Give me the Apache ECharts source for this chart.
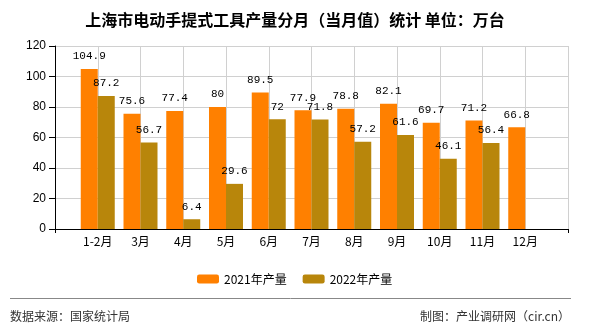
<!DOCTYPE html>
<html>
<head>
<meta charset="utf-8">
<script src="https://cdn.jsdelivr.net/npm/echarts@6/dist/echarts.min.js"></script>
<style>html,body{margin:0;padding:0;background:#fff}#c{width:590px;height:330px}</style>
</head>
<body>
<div id="c"></div>
<script>
const categories = ['1-2月','3月','4月','5月','6月','7月','8月','9月','10月','11月','12月'];
const values2021 = [104.9, 75.6, 77.4, 80, 89.5, 77.9, 78.8, 82.1, 69.7, 71.2, 66.8];
const values2022 = [87.2, 56.7, 6.4, 29.6, 72, 71.8, 57.2, 61.6, 46.1, 56.4, null];
const yTicks = [0, 20, 40, 60, 80, 100, 120];
const seriesNames = ['2021年产量', '2022年产量'];

const cats = [''].concat(categories, ['']);
const pad = a => [null].concat(a, [null]);

const labelStyle = {
  show: true, position: 'top', distance: 7,
  fontFamily: '"Liberation Mono", "DejaVu Sans Mono", monospace',
  fontSize: 11, color: '#000'
};

const chart = echarts.init(document.getElementById('c'), null, {renderer: 'canvas'});
chart.setOption({
  animation: false,
  backgroundColor: '#fff',
  title: {
    text: '上海市电动手提式工具产量分月（当月值）统计 单位：万台',
    left: 'center', top: 7,
    textStyle: {fontFamily: '"Noto Sans CJK SC", sans-serif', fontSize: 16, fontWeight: 'bold', color: '#000'}
  },
  legend: {
    left: 197, top: 273, padding: 0,
    itemWidth: 22, itemHeight: 9, itemGap: 16,
    textStyle: {fontFamily: '"Noto Sans CJK SC", sans-serif', fontSize: 12, color: '#000'},
    data: seriesNames
  },
  grid: {left: 55, right: 22, top: 46, bottom: 101, containLabel: false},
  xAxis: {
    type: 'category', data: cats, boundaryGap: false,
    axisLine: {lineStyle: {color: '#000', width: 1}},
    axisTick: {show: true, length: 4, lineStyle: {color: '#000'},
      interval: (i) => i === 0 || i === cats.length - 1},
    axisLabel: {interval: 0, color: '#000', fontSize: 12, margin: 6,
      fontFamily: '"Noto Sans CJK SC", sans-serif'},
    splitLine: {show: true, lineStyle: {color: '#d0d0d0', width: 1}}
  },
  yAxis: {
    type: 'value', min: yTicks[0], max: yTicks[yTicks.length - 1], interval: 20,
    axisLine: {show: true, lineStyle: {color: '#000', width: 1}},
    axisTick: {show: true, length: 6, lineStyle: {color: '#000'}},
    axisLabel: {color: '#000', fontSize: 12, margin: 9,
      fontFamily: '"Liberation Sans", Arial, sans-serif'},
    splitLine: {show: true, lineStyle: {color: '#d0d0d0', width: 1}}
  },
  series: [
    {name: seriesNames[0], type: 'bar', data: pad(values2021), barWidth: 17, barGap: '0%',
      itemStyle: {color: '#FF8000'}, label: labelStyle},
    {name: seriesNames[1], type: 'bar', data: pad(values2022), barWidth: 17, barGap: '0%',
      itemStyle: {color: '#B8860B'}, label: labelStyle}
  ],
  graphic: [
    {type: 'line', shape: {x1: 10, y1: 298.5, x2: 571, y2: 298.5},
      style: {stroke: '#888', lineWidth: 1}},
    {type: 'text', left: 10, top: 310,
      style: {text: '数据来源：国家统计局', fill: '#333', fontSize: 12,
        fontFamily: '"Noto Sans CJK SC", sans-serif'}},
    {type: 'text', right: 20, top: 310,
      style: {text: '制图：产业调研网（cir.cn）', fill: '#333', fontSize: 12,
        fontFamily: '"Noto Sans CJK SC", sans-serif'}}
  ]
});
</script>
</body>
</html>
